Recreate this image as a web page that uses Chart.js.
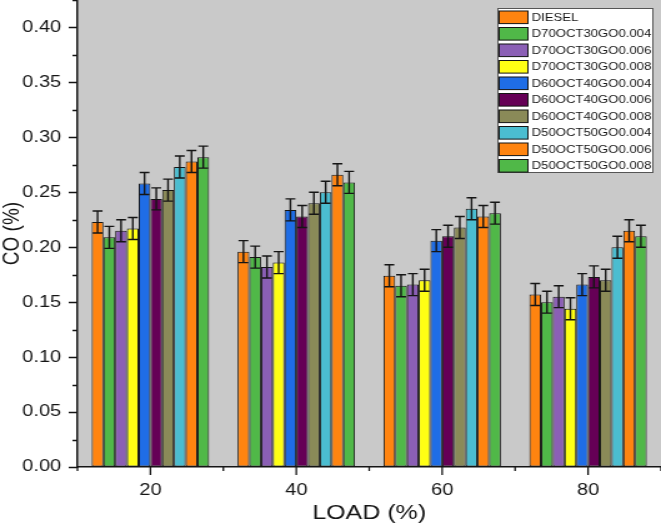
<!DOCTYPE html>
<html><head><meta charset="utf-8">
<script src="https://cdn.jsdelivr.net/npm/chart.js@4"></script>
<style>
html,body{margin:0;padding:0;background:#fff;overflow:hidden;width:661px;height:528px}
#c{display:block;transform:scale(1.2495,1);transform-origin:0 0;}
</style>
</head><body>
<canvas id="c" width="529" height="528"></canvas>
<script>
// ---- data ----
const loads = ['20', '40', '60', '80'];
const seriesNames = ['DIESEL', 'D70OCT30GO0.004', 'D70OCT30GO0.006', 'D70OCT30GO0.008',
  'D60OCT40GO0.004', 'D60OCT40GO0.006', 'D60OCT40GO0.008',
  'D50OCT50GO0.004', 'D50OCT50GO0.006', 'D50OCT50GO0.008'];
const diesel      = [0.223, 0.196, 0.174, 0.157];
const d70go004    = [0.209, 0.191, 0.165, 0.150];
const d70go006    = [0.215, 0.182, 0.166, 0.155];
const d70go008    = [0.217, 0.186, 0.170, 0.144];
const d60go004    = [0.258, 0.234, 0.206, 0.166];
const d60go006    = [0.244, 0.228, 0.210, 0.173];
const d60go008    = [0.252, 0.240, 0.218, 0.170];
const d50go004    = [0.273, 0.250, 0.235, 0.200];
const d50go006    = [0.278, 0.266, 0.228, 0.215];
const d50go008    = [0.282, 0.259, 0.231, 0.210];
const seriesValues = [diesel, d70go004, d70go006, d70go008, d60go004, d60go006, d60go008, d50go004, d50go006, d50go008];
const errDiesel   = [0.010, 0.010, 0.010, 0.010];
const errD70go004 = [0.010, 0.010, 0.010, 0.010];
const errD70go006 = [0.010, 0.010, 0.010, 0.010];
const errD70go008 = [0.010, 0.010, 0.010, 0.010];
const errD60go004 = [0.010, 0.010, 0.010, 0.010];
const errD60go006 = [0.010, 0.010, 0.010, 0.010];
const errD60go008 = [0.010, 0.010, 0.010, 0.010];
const errD50go004 = [0.010, 0.010, 0.010, 0.010];
const errD50go006 = [0.010, 0.010, 0.010, 0.010];
const errD50go008 = [0.010, 0.010, 0.010, 0.010];
const seriesErrors = [errDiesel, errD70go004, errD70go006, errD70go008, errD60go004, errD60go006, errD60go008, errD50go004, errD50go006, errD50go008];
const yTickValues = [0, 0.05, 0.10, 0.15, 0.20, 0.25, 0.30, 0.35, 0.40];

// ---- styles ----
const colors = ['#ff8410', '#50b848', '#8b5fb5', '#ffff14', '#1f6de6', '#650056', '#8a8a58', '#4bbdd0', '#ff8410', '#50b848'];
const INK = '#151515';
const FONT = "'Liberation Sans', Arial, sans-serif";
Chart.defaults.font.family = FONT;
Chart.defaults.color = INK;

const decor = {
  id: 'decor',
  beforeDraw(chart) {
    const {ctx, chartArea: a} = chart;
    ctx.save();
    ctx.fillStyle = '#c9c9c9';
    ctx.fillRect(a.left, a.top, a.right - a.left, a.bottom - a.top);
    ctx.restore();
  },
  afterDatasetsDraw(chart) {
    const {ctx} = chart;
    const ys = chart.scales.y;
    ctx.save();
    ctx.strokeStyle = INK;
    ctx.lineWidth = 1.4;
    chart.data.datasets.forEach((ds, i) => {
      const meta = chart.getDatasetMeta(i);
      meta.data.forEach((el, j) => {
        const v = ds.data[j], e = ds.errors[j];
        const yt = ys.getPixelForValue(v + e), yb = ys.getPixelForValue(v - e);
        const hw = el.width * 0.42;
        ctx.beginPath();
        ctx.moveTo(el.x, yt); ctx.lineTo(el.x, yb);
        ctx.moveTo(el.x - hw, yt); ctx.lineTo(el.x + hw, yt);
        ctx.moveTo(el.x - hw, yb); ctx.lineTo(el.x + hw, yb);
        ctx.stroke();
      });
    });
    ctx.restore();
  },
  afterDraw(chart) {
    const {ctx, chartArea: a} = chart;
    const xs = chart.scales.x, ys = chart.scales.y;
    ctx.save();
    ctx.strokeStyle = INK;
    ctx.lineWidth = 1.3;
    ctx.beginPath();
    // y ticks (major + minor)
    for (let k = 0; k <= 17; k++) {
      const py = Math.round(ys.getPixelForValue(k * 0.025)) + 0.5;
      const len = (k % 2 === 0) ? 7 : 4;
      ctx.moveTo(a.left, py); ctx.lineTo(a.left - len, py);
    }
    // x ticks (major at categories, minor at boundaries)
    const n = xs.getLabels().length;
    for (let i = 0; i < n; i++) {
      const px = xs.getPixelForValue(i);
      ctx.moveTo(px, a.bottom); ctx.lineTo(px, a.bottom + 8);
    }
    for (let i = 0; i <= n; i++) {
      const px = xs.getPixelForValue(i - 0.5);
      ctx.moveTo(px, a.bottom); ctx.lineTo(px, a.bottom + 4);
    }
    ctx.stroke();

    // legend box
    const lx = 398, ly = 8, lw = 125, lh = 165;
    ctx.fillStyle = '#ffffff';
    ctx.fillRect(lx, ly, lw, lh);
    ctx.strokeStyle = '#555';
    ctx.lineWidth = 1;
    ctx.strokeRect(lx + 0.5, ly + 0.5, lw - 1, lh - 1);
    ctx.font = '10.5px ' + FONT;
    ctx.textBaseline = 'middle';
    ctx.textAlign = 'left';
    chart.data.datasets.forEach((ds, i) => {
      const cy = 17.3 + i * 16.5;
      ctx.fillStyle = ds.backgroundColor;
      ctx.fillRect(399.5, cy - 6.3, 23, 12.6);
      ctx.strokeStyle = INK;
      ctx.strokeRect(399.5, cy - 6.3, 23, 12.6);
      ctx.fillStyle = INK;
      ctx.fillText(ds.label, 425.5, cy + 0.5);
    });
    ctx.restore();
  }
};

new Chart(document.getElementById('c'), {
  type: 'bar',
  data: {
    labels: loads,
    datasets: seriesNames.map((name, i) => ({
      label: name,
      data: seriesValues[i],
      errors: seriesErrors[i],
      backgroundColor: colors[i],
      borderColor: INK,
      borderWidth: 1,
      borderSkipped: false,
      barPercentage: 1.0,
      categoryPercentage: 0.805
    }))
  },
  options: {
    responsive: false,
    animation: false,
    devicePixelRatio: 1,
    layout: {padding: 0},
    plugins: {legend: {display: false}, tooltip: {enabled: false}},
    scales: {
      x: {
        offset: true,
        grid: {display: true, drawOnChartArea: false, offset: false, tickLength: 8, tickColor: 'rgba(0,0,0,0)'},
        border: {display: true, color: INK, width: 1.5},
        ticks: {font: {size: 16}, color: INK, padding: 6, maxRotation: 0},
        title: {display: true, text: 'LOAD (%)', color: INK, font: {size: 20, lineHeight: 1}, padding: {top: 0, bottom: 5}},
        afterFit(s) { s.height = 61; s.paddingLeft = 0; s.paddingRight = 0; }
      },
      y: {
        min: 0, max: 0.425,
        afterBuildTicks(s) { s.ticks = yTickValues.map(v => ({value: v})); },
        ticks: {font: {size: 16}, color: INK, padding: 6, autoSkip: false, callback: (v) => Number(v).toFixed(2)},
        grid: {display: true, drawOnChartArea: false, tickLength: 7, tickColor: 'rgba(0,0,0,0)'},
        border: {display: true, color: INK, width: 1.5},
        title: {display: true, text: 'CO (%)', color: INK, font: {size: 19, lineHeight: 1}, padding: 0},
        afterFit(s) { s.width = 62; s.paddingTop = 0; s.paddingBottom = 0; }
      }
    }
  },
  plugins: [decor]
});
</script>
</body></html>
